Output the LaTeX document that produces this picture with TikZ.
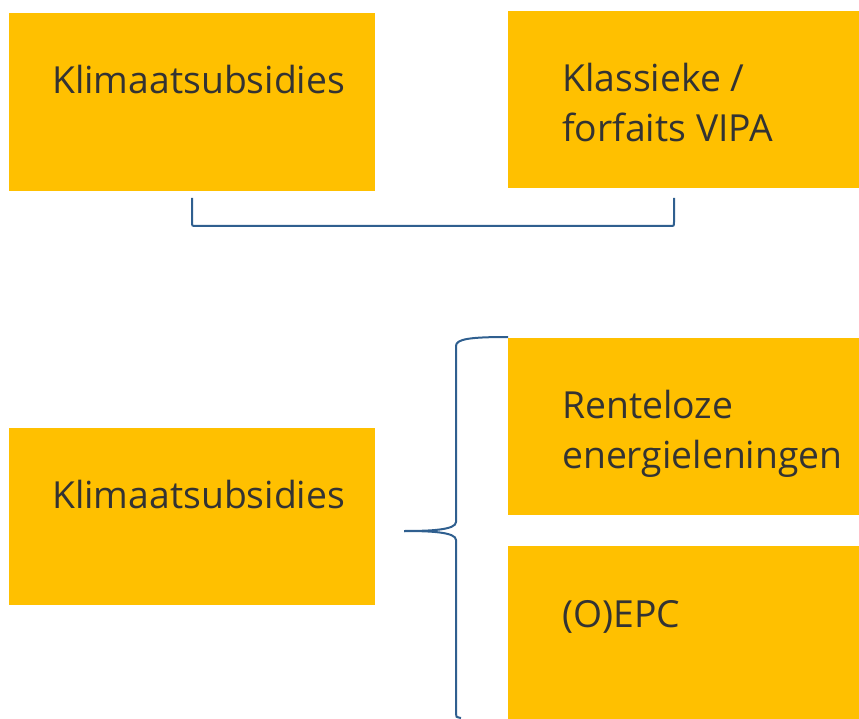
\documentclass[tikz,border=0pt]{standalone}
\usepackage{fontspec}
\setmainfont{Open Sans}
\definecolor{boxyellow}{HTML}{FFC000}
\definecolor{linkblue}{HTML}{2F5F8F}
\definecolor{txtgray}{HTML}{333333}
\begin{document}
\begin{tikzpicture}[x=1pt,y=-1pt,
  box/.style={fill=boxyellow,draw=none,inner sep=0pt,anchor=north west},
  lbl/.style={text=txtgray,anchor=base west,inner sep=0pt,align=left,font=\fontsize{37.3}{50}\selectfont},
  brk/.style={draw=linkblue,line width=2pt}]
\useasboundingbox (0,0) rectangle (859,719);
\node[box,minimum width=366pt,minimum height=178pt] (b1) at (9,13) {};
\node[box,minimum width=351pt,minimum height=177pt] (b2) at (508,11) {};
\node[box,minimum width=366pt,minimum height=177pt] (b3) at (9,428) {};
\node[box,minimum width=351pt,minimum height=177pt] (b4) at (508,338) {};
\node[box,minimum width=351pt,minimum height=173pt] (b5) at (508,546) {};
\node[lbl] (t1) at (52,94) {Klimaatsubsidies};
\node[lbl] (t2) at (562,142) {Klassieke /\\forfaits VIPA};
\node[lbl] (t3) at (52,508) {Klimaatsubsidies};
\node[lbl] (t4) at (562,468) {Renteloze\\energieleningen};
\node[lbl] (t5) at (562,627) {(O)EPC};
% top bracket
\coordinate (l1) at (192,198);
\coordinate (r1) at (674,198);
\draw[brk] (l1) -- (192,222) .. controls (192,226) .. (196,226) -- (670,226) .. controls (674,226) .. (674,222) -- (r1);
% brace
\coordinate (tip) at (404,531);
\coordinate (bt) at (508,337);
\coordinate (bb) at (461,718);
\draw[brk] (bt) .. controls (470,337) and (456,339) .. (456,346) -- (456,522) .. controls (456,530) and (430,531) .. (tip);
\draw[brk] (tip) .. controls (430,531) and (456,532) .. (456,540) -- (456,714) .. controls (456,717) .. (bb);
\end{tikzpicture}
\end{document}
